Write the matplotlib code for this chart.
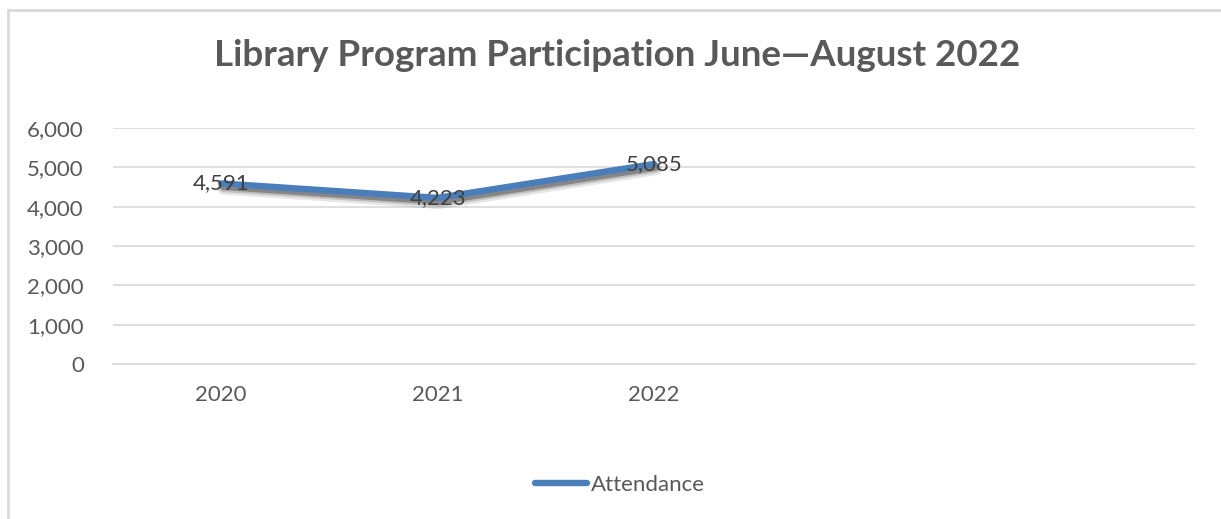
import matplotlib
matplotlib.use("Agg")
from matplotlib import pyplot as plt
from matplotlib.lines import Line2D
import matplotlib.patheffects as pe
import matplotlib.ticker as mticker
from matplotlib.patches import Rectangle

years = ['2020', '2021', '2022']
attendance = [4591, 4223, 5085]
series_name = 'Attendance'
title = 'Library Program Participation June\u2014August 2022'

n_slots = 5  # excel axis keeps room for two empty categories
blue = '#4A7EBB'
gray_text = '#595959'
grid_gray = '#D9D9D9'

plt.rcParams['font.family'] = ['Lato', 'DejaVu Sans']

fig = plt.figure(figsize=(12.21, 5.19), dpi=100)
ax = fig.add_axes([113 / 1221, 1 - 364 / 519, (1195 - 113) / 1221, (364 - 128) / 519])

x = list(range(len(years)))
line, = ax.plot(x, attendance, color=blue, linewidth=4.6, solid_capstyle='round',
                label=series_name, zorder=3)
# soft shadow: a few stacked offset copies
line.set_path_effects([
    pe.SimpleLineShadow(offset=(1.5, -3.5), shadow_color='#555555', alpha=0.15, linewidth=9),
    pe.SimpleLineShadow(offset=(1.5, -3), shadow_color='#555555', alpha=0.25, linewidth=6.5),
    pe.SimpleLineShadow(offset=(1.5, -2.5), shadow_color='#404040', alpha=0.45),
    pe.Normal()])

for xi, v in zip(x, attendance):
    ax.text(xi, v, f'{v:,}', ha='center', va='center', fontsize=16,
            color='#404040', zorder=4)

ax.set_xlim(-0.5, n_slots - 0.5)
ax.set_ylim(0, 6000)
ax.set_xticks(x)
ax.set_xticklabels(years)
ax.yaxis.set_major_locator(mticker.MultipleLocator(1000))
ax.yaxis.set_major_formatter(mticker.FuncFormatter(lambda v, p: f'{int(v):,}'))
ax.tick_params(axis='both', length=0, labelsize=16, labelcolor=gray_text)
ax.tick_params(axis='x', pad=15)
ax.tick_params(axis='y', pad=21)
ax.grid(axis='y', color=grid_gray, linewidth=1.2)
ax.set_axisbelow(True)
for side in ['top', 'right', 'left']:
    ax.spines[side].set_visible(False)
ax.spines['bottom'].set_color(grid_gray)
ax.spines['bottom'].set_linewidth(1.2)

fig.text(617 / 1221, 1 - 55 / 519, title, ha='center', va='center',
         fontsize=26.5, fontweight='bold', color=gray_text)

handle = Line2D([], [], color=blue, linewidth=4.6, solid_capstyle='round')
leg = fig.legend(handles=[handle], labels=[series_name], loc='center',
                 bbox_to_anchor=(620 / 1221, 1 - 485 / 519), frameon=False,
                 fontsize=16, handlelength=2.35, handletextpad=0.2)
for t in leg.get_texts():
    t.set_color(gray_text)

# chart area border (top and left edges visible in the crop)
fig.patches.append(Rectangle((8 / 1221, -0.1), 1.2, 1 - 10 / 519 + 0.1,
                             transform=fig.transFigure, fill=False,
                             edgecolor=grid_gray, linewidth=2))

fig.savefig('out.png', dpi=100)
